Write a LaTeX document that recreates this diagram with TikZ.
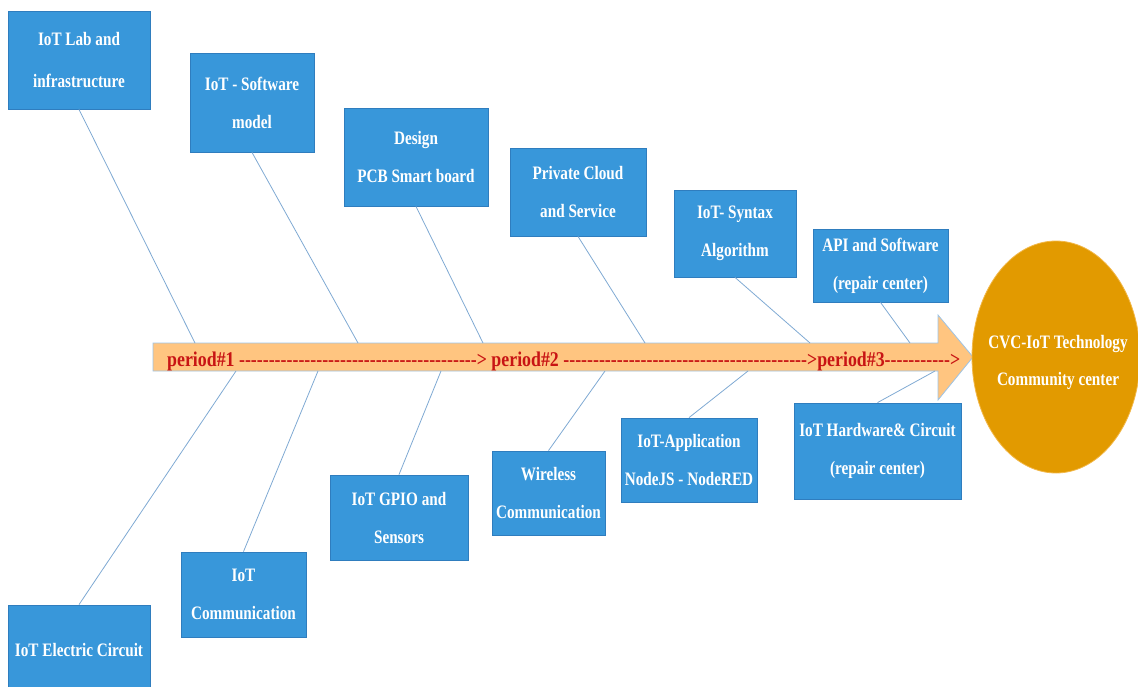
\documentclass[tikz,border=0pt]{standalone}
\usepackage{fontspec}
\newfontfamily\boxfont{Liberation Serif}[FakeStretch=0.8]
\newfontfamily\spinefont{Liberation Serif}[FakeStretch=0.85]
\usepackage{tikz}
\usetikzlibrary{shapes.geometric}

\definecolor{boxblue}{HTML}{3897DA}
\definecolor{boxedge}{HTML}{2F7DBE}
\definecolor{bonecol}{HTML}{7FA9D3}
\definecolor{spinefill}{HTML}{FFC580}
\definecolor{spineedge}{HTML}{9DC3E6}
\definecolor{goalfill}{HTML}{E29A00}
\definecolor{goaledge}{HTML}{F2B84A}
\definecolor{periodred}{HTML}{C81414}

\begin{document}
\begin{tikzpicture}[
  x=1pt,y=-1pt,
  cause/.style={rectangle,draw=boxedge,line width=0.8pt,fill=boxblue,text=white,inner sep=0pt,align=center,
    font=\boxfont\bfseries\fontsize{19}{38}\selectfont},
  twoline/.style={cause,execute at begin node={\rule{0pt}{33pt}}},
  bone/.style={draw=bonecol,line width=0.8pt},
]
\useasboundingbox (0,0) rectangle (1138,686);
\clip (0,0) rectangle (1138,686);

% spine arrow
\draw[fill=spinefill,draw=spineedge,line width=0.8pt]
  (153,343) -- (938,343) -- (938,315) -- (973,357) -- (938,400) -- (938,371) -- (153,371) -- cycle;
\node (periods) [anchor=base west,inner sep=0pt,text=periodred,font=\spinefont\bfseries\fontsize{21}{21}\selectfont]
  at (167,366) {period\#1 ----------------------------------------> period\#2 ----------------------------------------->period\#3----------->};

\foreach \x [count=\i] in {195,358,483,645,810,910}
  \coordinate (top\i) at (\x,343);
\foreach \x [count=\i] in {236,318,441,605,748,935}
  \coordinate (bot\i) at (\x,371);

% goal
\node (goal) [ellipse,draw=goaledge,line width=0.8pt,fill=goalfill,minimum width=168,minimum height=232,inner sep=0pt] at (1056,357) {};
\node (goaltext) [text=white,align=center,inner sep=0pt,font=\boxfont\bfseries\fontsize{19}{37}\selectfont]
  at (1058,362) {CVC-IoT Technology\\Community center};

% upper causes
\node (lab) [twoline,minimum width=142,minimum height=98] at (79,60) {IoT Lab and\\[4pt]infrastructure};
\node (swmodel) [twoline,minimum width=124,minimum height=99] at (252,102.5) {IoT - Software\\model};
\node (pcb) [twoline,minimum width=144,minimum height=98] at (416,157) {Design\\PCB Smart board};
\node (cloud) [twoline,minimum width=136,minimum height=88] at (578,192) {Private Cloud\\and Service};
\node (syntax) [twoline,minimum width=122,minimum height=87] at (735,233.5) {IoT- Syntax\\Algorithm};
\node (api) [twoline,minimum width=135,minimum height=73] at (880.5,265.5) {API and Software\\(repair center)};

% lower causes
\node (circuit) [cause,minimum width=142,minimum height=90] at (79,650) {IoT Electric Circuit};
\node (comm) [twoline,minimum width=125,minimum height=85] at (243.5,594.5) {IoT\\Communication};
\node (gpio) [twoline,minimum width=138,minimum height=85] at (399,517.5) {IoT GPIO and\\Sensors};
\node (wireless) [twoline,minimum width=113,minimum height=84] at (548.5,493) {Wireless\\Communication};
\node (app) [twoline,minimum width=136,minimum height=84] at (689,460) {IoT-Application\\NodeJS - NodeRED};
\node (hw) [twoline,minimum width=167,minimum height=96] at (877.5,451) {IoT Hardware\& Circuit\\(repair center)};

% bones
\draw[bone] (lab.south) -- (top1);
\draw[bone] (swmodel.south) -- (top2);
\draw[bone] (pcb.south) -- (top3);
\draw[bone] (cloud.south) -- (top4);
\draw[bone] (syntax.south) -- (top5);
\draw[bone] (api.south) -- (top6);
\draw[bone] (circuit.north) -- (bot1);
\draw[bone] (comm.north) -- (bot2);
\draw[bone] (gpio.north) -- (bot3);
\draw[bone] (wireless.north) -- (bot4);
\draw[bone] (app.north) -- (bot5);
\draw[bone] (hw.north) -- (bot6);
\end{tikzpicture}
\end{document}
